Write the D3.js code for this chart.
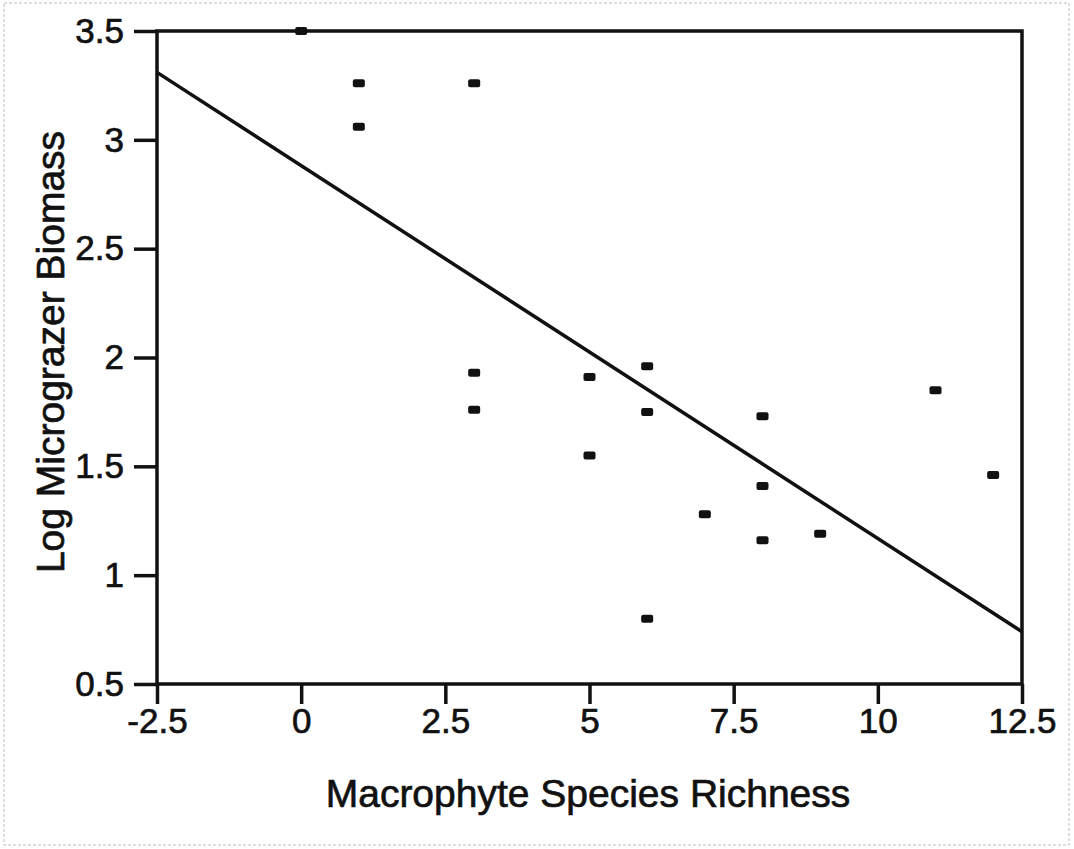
<!DOCTYPE html>
<html>
<head>
<meta charset="utf-8">
<script src="https://cdn.jsdelivr.net/npm/d3@7"></script>
<style>
  body { margin: 0; background: #fff; }
  text { font-family: "Liberation Sans", Arial, sans-serif; fill: #111; stroke: #111; stroke-width: 0.7px; }
</style>
</head>
<body>
<svg id="chart"></svg>
<script>
// data
const richness = [0, 1, 1, 3, 3, 3, 5, 5, 6, 6, 6, 7, 8, 8, 8, 9, 11, 12]
const biomass = [3.5, 3.26, 3.06, 3.26, 1.93, 1.76, 1.91, 1.55, 1.96, 1.75, 0.8, 1.28, 1.73, 1.41, 1.16, 1.19, 1.85, 1.46]
const fitX = [-2.5, 12.5]
const fitY = [3.31, 0.74]
const xTicks = [-2.5, 0, 2.5, 5, 7.5, 10, 12.5]
const yTicks = [0.5, 1, 1.5, 2, 2.5, 3, 3.5]

const W = 1074, H = 849
const m = {left: 157, right: 52, top: 31, bottom: 165}

const svg = d3.select('#chart').attr('width', W).attr('height', H)

// faint scan border
svg.append('rect')
  .attr('x', 4).attr('y', 3)
  .attr('width', W - 9).attr('height', H - 7)
  .attr('fill', 'none')
  .attr('stroke', '#bbb')
  .attr('stroke-width', 1)
  .attr('stroke-dasharray', '3,2')

const x = d3.scaleLinear().domain([-2.5, 12.5]).range([m.left, W - m.right])
const y = d3.scaleLinear().domain([0.5, 3.5]).range([H - m.bottom, m.top])

const xAxis = svg.append('g')
  .attr('transform', `translate(0, ${H - m.bottom})`)
  .call(d3.axisBottom(x).tickValues(xTicks).tickSize(20).tickPadding(4).tickFormat(d => String(d)))
xAxis.select('.domain').remove()
xAxis.selectAll('line').attr('stroke', '#111').attr('stroke-width', 3.5)
xAxis.selectAll('text').attr('font-size', 35).attr('fill', '#111')

const yAxis = svg.append('g')
  .attr('transform', `translate(${m.left}, 0)`)
  .call(d3.axisLeft(y).tickValues(yTicks).tickSize(23).tickPadding(10).tickFormat(d => String(d)))
yAxis.select('.domain').remove()
yAxis.selectAll('line').attr('stroke', '#111').attr('stroke-width', 3.5)
yAxis.selectAll('text').attr('font-size', 35).attr('fill', '#111')

// frame
svg.append('rect')
  .attr('x', x(-2.5)).attr('y', y(3.5))
  .attr('width', x(12.5) - x(-2.5))
  .attr('height', y(0.5) - y(3.5))
  .attr('fill', 'none')
  .attr('stroke', '#111')
  .attr('stroke-width', 3.5)

// regression line
svg.append('line')
  .attr('x1', x(fitX[0])).attr('y1', y(fitY[0]))
  .attr('x2', x(fitX[1])).attr('y2', y(fitY[1]))
  .attr('stroke', '#111')
  .attr('stroke-width', 3.5)

// points
const pts = richness.map((r, i) => ({r: r, b: biomass[i]}))
svg.append('g').selectAll('rect')
  .data(pts)
  .join('rect')
  .attr('x', d => x(d.r) - 6)
  .attr('y', d => y(d.b) - 4)
  .attr('width', 12)
  .attr('height', 8)
  .attr('rx', 2)
  .attr('fill', '#111')

svg.append('text')
  .attr('x', 588)
  .attr('y', 807)
  .attr('text-anchor', 'middle')
  .attr('font-size', 39)
  .text('Macrophyte Species Richness')

svg.append('text')
  .attr('transform', `translate(64, 352) rotate(-90)`)
  .attr('text-anchor', 'middle')
  .attr('font-size', 39)
  .text('Log Micrograzer Biomass')
</script>
</body>
</html>
